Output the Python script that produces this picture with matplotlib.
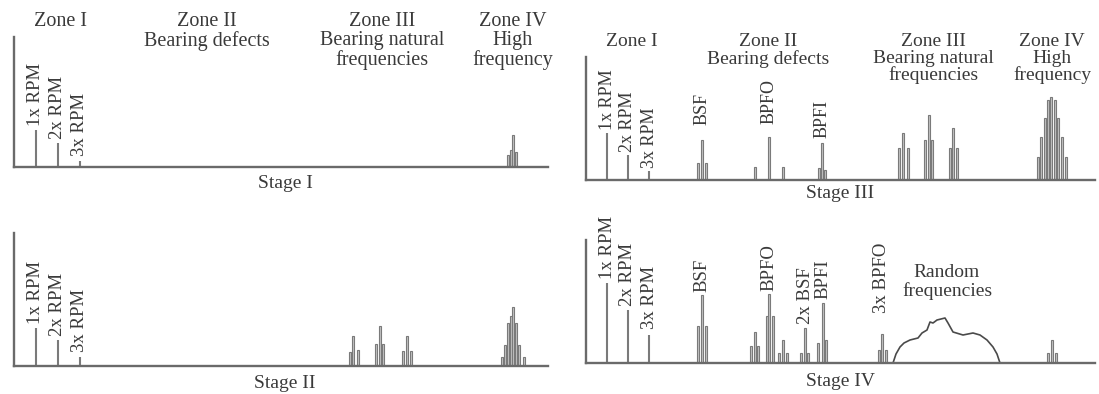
import matplotlib.pyplot as plt

# ---- spectrum data (frequency in panel units, amplitude in panel units) ----
stage1_freq = [22, 44, 66, 494, 497, 499, 502]
stage1_amp = [37, 24, 6, 12, 17, 32, 15]

stage2_freq = [22, 44, 66,
               336, 339, 344, 362, 366, 369, 389, 393, 397,
               488, 491, 494, 497, 499, 502, 505, 510]
stage2_amp = [38, 26, 9,
              14, 30, 16, 22, 40, 22, 15, 30, 15,
              9, 21, 43, 50, 59, 43, 21, 9]

stage3_freq = [21, 42, 63,
               112, 116, 120, 169, 183, 197, 233, 236, 239,
               313, 317, 322, 339, 343, 346, 364, 367, 371,
               452, 455, 459, 462, 465, 469, 472, 476, 480]
stage3_amp = [47, 25, 9,
              17, 40, 17, 13, 43, 13, 12, 37, 10,
              32, 47, 32, 40, 65, 40, 32, 52, 32,
              23, 43, 62, 80, 83, 80, 62, 43, 23]

stage4_freq = [21, 42, 63,
               112, 116, 120, 165, 169, 172, 181, 183, 187,
               193, 197, 201, 215, 219, 222, 232, 237, 240,
               293, 296, 300, 462, 466, 470]
stage4_amp = [80, 53, 28,
              37, 68, 37, 17, 31, 17, 47, 69, 47,
              10, 23, 10, 10, 35, 10, 20, 60, 23,
              13, 29, 13, 10, 23, 10]

# broadband "random frequencies" hump in stage IV
random_freq = [307, 310, 314, 318, 324, 332, 336, 341, 344, 347, 351, 359,
               362, 367, 377, 387, 394, 401, 407, 411, 414]
random_amp = [0, 9, 16, 20, 23, 25, 30, 33, 41, 40, 43, 45,
              40, 31, 28, 30, 28, 23, 16, 9, 0]

# peak annotations: text and index of the peak it labels
stage1_labels = ["1x RPM", "2x RPM", "3x RPM"]
stage1_label_idx = [0, 1, 2]
stage2_labels = ["1x RPM", "2x RPM", "3x RPM"]
stage2_label_idx = [0, 1, 2]
stage3_labels = ["1x RPM", "2x RPM", "3x RPM", "BSF", "BPFO", "BPFI"]
stage3_label_idx = [0, 1, 2, 4, 7, 10]
stage4_labels = ["1x RPM", "2x RPM", "3x RPM", "BSF", "BPFO", "2x BSF",
                 "BPFI", "3x BPFO"]
stage4_label_idx = [0, 1, 2, 4, 10, 16, 19, 22]

zone_titles = ["Zone I", "Zone II\nBearing defects",
               "Zone III\nBearing natural\nfrequencies",
               "Zone IV\nHigh\nfrequency"]
stage_titles = ["Stage I", "Stage II", "Stage III", "Stage IV"]

# ---- layout ----
W, H = 1099, 394
plt.rcParams['font.family'] = ['Liberation Serif', 'DejaVu Serif']
fig = plt.figure(figsize=(W / 100, H / 100), dpi=100)
fig.patch.set_facecolor('white')

TEXT = '#3a3a3a'
AXIS = '#6a6a6a'
BAR = '#7a7a7a'
FILL = '#c4c4c4'
N_HARMONICS = 3  # the first three peaks of every stage are shaft harmonics


def panel(left, right, base, top):
    ax = fig.add_axes([left / W, 1 - base / H, (right - left) / W, (base - top) / H])
    ax.set_xlim(0, right - left)
    ax.set_ylim(0, base - top)
    for s in ('top', 'right'):
        ax.spines[s].set_visible(False)
    for s in ('left', 'bottom'):
        ax.spines[s].set_color(AXIS)
        ax.spines[s].set_linewidth(1.7)
    ax.set_xticks([])
    ax.set_yticks([])
    ax.patch.set_alpha(0)
    return ax


def draw(ax, freq, amp, labels, idx, gaps, fs):
    # shaft harmonics as single lines, defect/resonance peaks as narrow bands
    ax.vlines(freq[:N_HARMONICS], 0, amp[:N_HARMONICS], color=BAR, lw=1.5)
    ax.bar(freq[N_HARMONICS:], amp[N_HARMONICS:], width=2.7, color=FILL,
           edgecolor=BAR, linewidth=0.8)
    for t, i, g in zip(labels, idx, gaps):
        ax.text(freq[i], amp[i] + g, t, rotation=90, ha='center', va='bottom',
                fontsize=fs, color=TEXT, clip_on=False)


def zones(ax, xs, y, fs, ls):
    for t, x in zip(zone_titles, xs):
        ax.text(x, y, t, ha='center', va='top', fontsize=fs, color=TEXT,
                linespacing=ls, clip_on=False)


ax1 = panel(14, 548, 167, 37)
ax2 = panel(14, 548, 366, 233)
ax3 = panel(586, 1095, 180, 57)
ax4 = panel(586, 1095, 363, 240)

draw(ax1, stage1_freq, stage1_amp, stage1_labels, stage1_label_idx, [4, 4, 5], 13.5)
draw(ax2, stage2_freq, stage2_amp, stage2_labels, stage2_label_idx, [4, 4, 5], 13.5)
draw(ax3, stage3_freq, stage3_amp, stage3_labels, stage3_label_idx,
     [3, 3, 3, 15, 13, 5], 13)
draw(ax4, stage4_freq, stage4_amp, stage4_labels, stage4_label_idx,
     [4, 4, 6, 3, 3, 4, 4, 21], 13.5)
ax4.plot(random_freq, random_amp, color='#4a4a4a', lw=1.2)
ax4.text(361, 81, "Random\nfrequencies", ha='center', va='center', fontsize=14,
         color=TEXT, linespacing=1.05)

zones(ax1, [46, 193, 368, 499], 155, 14.5, 1.02)
zones(ax3, [46, 182, 347, 466], 147, 14, 0.98)

for t, (x, y) in zip(stage_titles, [(285, 183), (285, 383), (840, 193), (840, 382)]):
    fig.text(x / W, 1 - y / H, t, ha='center', va='center', fontsize=14, color=TEXT)

fig.savefig('out.png', dpi=100)
